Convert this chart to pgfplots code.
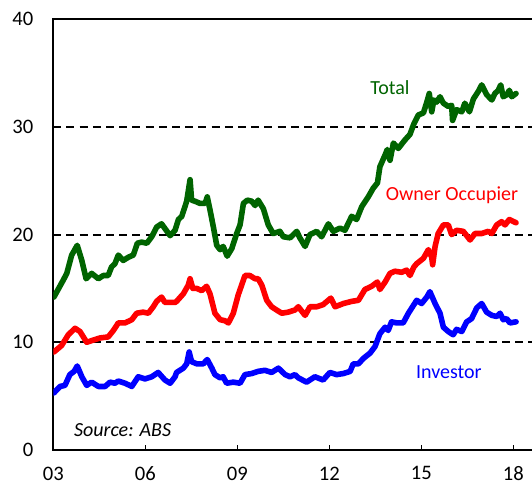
\documentclass[border=0pt]{standalone}
\usepackage{fontspec}
\setmainfont{Carlito}
\usepackage{pgfplots}
\pgfplotsset{compat=1.18}
\definecolor{tgreen}{RGB}{0,100,0}
\begin{document}
\begin{tikzpicture}
\useasboundingbox (-26.65pt,-16.5pt) rectangle (239.35pt,225pt);
\begin{axis}[
  at={(0,0)}, anchor=south west,
  scale only axis,
  width=240.35pt, height=215.4pt,
  xmin=2003, xmax=2018.675,
  ymin=0, ymax=40,
  xtick={2003,2006,2009,2012,2015,2018},
  xticklabels={03,06,09,12,15,18},
  ytick={0,10,20,30,40},
  tick pos=left,
  xtick align=inside,
  major tick length=2.5pt,
  ytick style={draw=none},
  xtick style={black, line width=0.6pt},
  axis line style={black, line width=1pt},
  ymajorgrids,
  grid style={black, line width=1pt, dash pattern=on 4pt off 2.6pt},
  /pgf/number format/assume math mode=true,
  tick label style={font=\fontsize{10.3}{12}\selectfont},
  yticklabel style={xshift=-6.5pt},
  xticklabel style={yshift=-4.8pt},
  every axis plot/.append style={line width=2.8pt, line join=round, line cap=round},
  clip=true,
]
% Total
\addplot[tgreen] coordinates {
(2003.02,14.2)(2003.33,15.8)(2003.44,16.4)(2003.60,18.1)(2003.78,19.0)(2003.93,17.6)
(2004.07,15.9)(2004.25,16.4)(2004.47,15.9)(2004.63,16.2)(2004.79,16.2)(2004.90,17.0)
(2005.01,17.3)(2005.12,18.1)(2005.28,17.6)(2005.45,17.9)(2005.61,18.1)(2005.74,19.2)
(2005.88,19.3)(2006.05,19.2)(2006.21,19.8)(2006.37,20.7)(2006.53,21.0)(2006.81,19.9)
(2006.97,20.4)(2007.08,21.4)(2007.19,21.7)(2007.35,23.1)(2007.46,25.1)(2007.51,23.2)
(2007.62,23.1)(2007.78,22.9)(2007.95,22.9)(2008.02,23.5)(2008.11,22.3)(2008.22,20.7)
(2008.33,19.0)(2008.44,18.6)(2008.54,18.9)(2008.67,18.0)(2008.82,18.7)(2008.98,20.1)
(2009.09,20.9)(2009.20,22.9)(2009.33,23.2)(2009.47,23.1)(2009.58,22.7)(2009.68,23.2)
(2009.85,22.4)(2010.01,20.9)(2010.17,20.1)(2010.39,20.3)(2010.50,19.8)(2010.72,19.7)
(2010.94,20.3)(2011.04,19.7)(2011.21,18.9)(2011.37,20.0)(2011.59,20.3)(2011.75,19.8)
(2011.97,21.0)(2012.13,20.3)(2012.35,20.6)(2012.51,20.4)(2012.73,21.7)(2012.89,21.4)
(2013.06,22.6)(2013.27,23.5)(2013.43,24.3)(2013.57,24.8)(2013.65,26.3)(2013.82,27.4)
(2013.89,27.9)(2013.98,26.9)(2014.09,28.5)(2014.25,28.0)(2014.47,28.8)(2014.63,29.3)
(2014.76,30.3)(2014.90,31.1)(2015.07,31.3)(2015.18,32.3)(2015.26,33.1)(2015.34,31.4)
(2015.41,32.5)(2015.50,32.3)(2015.61,32.8)(2015.72,32.2)(2015.88,31.9)(2015.99,32.0)
(2016.02,30.6)(2016.15,31.6)(2016.32,31.4)(2016.42,32.2)(2016.57,31.4)(2016.70,32.6)
(2016.86,33.3)(2016.97,33.9)(2017.13,33.0)(2017.30,32.5)(2017.40,33.1)(2017.51,33.4)
(2017.59,33.9)(2017.67,32.8)(2017.80,33.0)(2017.87,33.4)(2017.95,32.8)(2018.09,33.1)
};
% Owner occupier
\addplot[red] coordinates {
(2003.02,9.1)(2003.27,9.7)(2003.49,10.7)(2003.71,11.3)(2003.87,11.0)(2004.09,10.0)
(2004.30,10.2)(2004.52,10.4)(2004.79,10.5)(2004.96,11.1)(2005.12,11.8)(2005.34,11.8)
(2005.56,12.1)(2005.72,12.7)(2005.93,12.8)(2006.10,12.7)(2006.26,13.3)(2006.37,13.8)
(2006.53,14.2)(2006.64,13.7)(2006.97,13.7)(2007.02,13.8)(2007.24,14.5)(2007.40,15.3)
(2007.46,15.9)(2007.55,15.0)(2007.68,15.0)(2007.84,14.8)(2008.00,15.2)(2008.11,14.5)
(2008.27,12.7)(2008.44,12.1)(2008.60,12.0)(2008.71,11.8)(2008.87,12.7)(2009.03,14.4)
(2009.14,15.3)(2009.25,16.2)(2009.41,16.2)(2009.58,15.9)(2009.68,15.9)(2009.80,15.3)
(2009.96,13.9)(2010.12,13.3)(2010.28,13.0)(2010.45,12.7)(2010.66,12.8)(2010.88,13.0)
(2010.99,13.3)(2011.21,12.5)(2011.37,13.3)(2011.59,13.3)(2011.80,13.5)(2012.05,14.1)
(2012.19,13.3)(2012.46,13.6)(2012.73,13.8)(2012.95,13.9)(2013.16,14.9)(2013.38,15.2)
(2013.57,15.6)(2013.65,14.9)(2013.82,15.6)(2013.98,16.4)(2014.14,16.6)(2014.36,16.5)
(2014.52,16.7)(2014.63,16.2)(2014.76,17.0)(2014.85,17.3)(2015.07,17.8)(2015.23,18.6)
(2015.34,17.9)(2015.37,17.2)(2015.45,18.9)(2015.55,20.1)(2015.72,20.9)(2015.88,20.9)
(2015.99,20.0)(2016.15,20.4)(2016.37,20.3)(2016.59,19.5)(2016.75,20.1)(2016.97,20.1)
(2017.18,20.3)(2017.30,20.1)(2017.46,20.9)(2017.62,21.2)(2017.73,20.9)(2017.87,21.4)
(2018.09,21.1)
};
% Investor
\addplot[blue] coordinates {
(2003.02,5.3)(2003.22,5.9)(2003.38,6.0)(2003.54,7.0)(2003.68,7.3)(2003.78,7.8)
(2003.93,6.8)(2004.09,6.0)(2004.25,6.3)(2004.47,5.9)(2004.69,5.9)(2004.85,6.3)
(2005.01,6.2)(2005.12,6.4)(2005.34,6.2)(2005.56,5.9)(2005.77,6.8)(2005.99,6.6)
(2006.21,6.8)(2006.42,7.2)(2006.64,6.5)(2006.81,6.2)(2006.97,6.8)(2007.02,7.2)
(2007.24,7.6)(2007.35,8.0)(2007.43,9.1)(2007.51,8.2)(2007.68,8.0)(2007.89,8.0)
(2008.02,8.4)(2008.17,7.6)(2008.27,7.0)(2008.44,6.7)(2008.54,6.8)(2008.65,6.2)
(2008.87,6.3)(2009.09,6.2)(2009.25,7.0)(2009.47,7.1)(2009.68,7.3)(2009.90,7.4)
(2010.12,7.2)(2010.34,7.6)(2010.56,7.0)(2010.72,6.8)(2010.88,7.0)(2010.99,6.7)
(2011.26,6.3)(2011.53,6.8)(2011.80,6.5)(2012.02,7.2)(2012.24,7.0)(2012.46,7.1)
(2012.68,7.3)(2012.78,8.0)(2012.95,8.0)(2013.11,8.5)(2013.33,9.0)(2013.49,9.6)
(2013.65,10.8)(2013.82,11.4)(2013.92,11.1)(2014.03,11.9)(2014.20,11.8)(2014.41,11.8)
(2014.58,12.7)(2014.76,13.5)(2014.85,13.9)(2015.01,13.6)(2015.18,14.2)(2015.28,14.7)
(2015.45,13.6)(2015.61,12.7)(2015.72,11.4)(2015.88,11.0)(2016.04,10.7)(2016.15,11.2)
(2016.32,11.0)(2016.48,11.9)(2016.64,12.2)(2016.81,13.2)(2016.97,13.6)(2017.13,12.8)
(2017.30,12.5)(2017.46,12.4)(2017.57,12.7)(2017.67,12.1)(2017.78,12.2)(2017.89,11.8)
(2018.09,11.9)
};
\node[text=tgreen, font=\fontsize{10}{12}\selectfont] at (axis cs:2013.98,33.6) {Total};
\node[text=red, font=\fontsize{10}{12}\selectfont] at (axis cs:2016.0,23.7) {Owner Occupier};
\node[text=blue, font=\fontsize{10}{12}\selectfont] at (axis cs:2015.9,7.2) {Investor};
\node[font=\fontsize{10}{12}\selectfont\itshape] at (axis cs:2005.26,1.86) {Source: ABS};
\end{axis}
\end{tikzpicture}
\end{document}
